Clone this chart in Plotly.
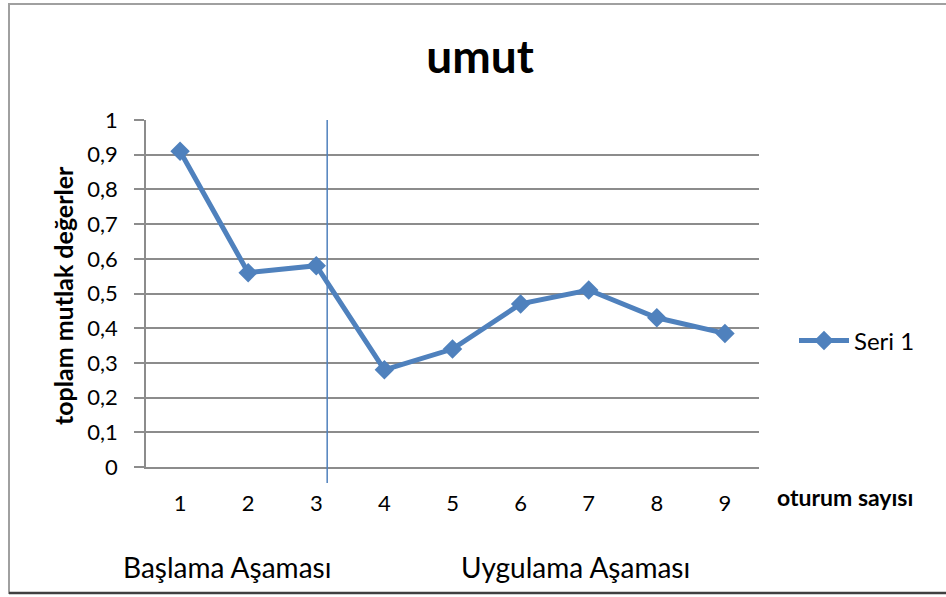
import plotly.graph_objects as go

sessions = [1, 2, 3, 4, 5, 6, 7, 8, 9]
values = [0.91, 0.56, 0.58, 0.28, 0.34, 0.47, 0.51, 0.43, 0.385]
series_name = "Seri 1"
y_ticks = [0, 0.1, 0.2, 0.3, 0.4, 0.5, 0.6, 0.7, 0.8, 0.9, 1]
y_tick_labels = ["0", "0,1", "0,2", "0,3", "0,4", "0,5", "0,6", "0,7", "0,8", "0,9", "1"]
phase_boundary = 3.16
phase_labels = ["Başlama Aşaması", "Uygulama Aşaması"]

W, H = 946, 597
L, R, T, B = 146, 187, 120, 130
pw, ph = W - L - R, H - T - B

def px(x):
    return (x - L) / pw

def py(y):
    return (H - B - y) / ph

FONT = "Lato"
BLUE = "#4F81BD"
GRID = "#8C8C8C"

fig = go.Figure()
fig.add_trace(go.Scatter(
    x=sessions, y=values, name=series_name, mode="lines+markers",
    line=dict(color=BLUE, width=5),
    marker=dict(symbol="diamond", size=15, color=BLUE),
    showlegend=True,
))

fig.update_layout(
    width=W, height=H,
    margin=dict(l=L, r=R, t=T, b=B),
    paper_bgcolor="white", plot_bgcolor="white",
    font=dict(family=FONT, color="#000000", size=16),
    title=dict(text="<b>umut</b>", x=px(480), xref="paper", xanchor="center",
               y=1 - 57 / H, yref="container", yanchor="middle",
               font=dict(size=46, family=FONT, color="#000")),
    showlegend=True,
    legend=dict(x=px(794), y=py(341), xanchor="left", yanchor="middle",
                font=dict(size=24, family=FONT), bgcolor="rgba(0,0,0,0)",
                itemwidth=50),
    xaxis=dict(range=[0.5, 9.5], tickmode="array", tickvals=sessions,
               ticktext=[str(s) for s in sessions], showgrid=False,
               zeroline=False, showline=True, linecolor=GRID, linewidth=1.5,
               ticks="", ticklabelstandoff=16, tickfont=dict(size=22)),
    yaxis=dict(range=[0, 1], tickmode="array", tickvals=y_ticks,
               ticktext=y_tick_labels, showgrid=True, gridcolor=GRID,
               gridwidth=1.5, zeroline=False, showline=True, linecolor=GRID,
               linewidth=1.5, ticks="outside", ticklen=10, tickcolor=GRID,
               tickwidth=1.5, ticklabelstandoff=12, tickfont=dict(size=22)),
)

# phase separator
fig.add_shape(type="line", xref="x", yref="paper", x0=phase_boundary, x1=phase_boundary,
              y0=py(483), y1=1.0, line=dict(color=BLUE, width=1.5), layer="above")

# chart border
fig.add_shape(type="rect", xref="paper", yref="paper", x0=px(9), x1=px(950),
              y0=py(593), y1=py(4), line=dict(color="#A0A0A0", width=2), layer="below")
fig.add_shape(type="line", xref="paper", yref="paper", x0=px(9), x1=px(950),
              y0=py(593), y1=py(593), line=dict(color="#404040", width=2.5), layer="below")

# axis titles
fig.add_annotation(text="<b>toplam mutlak değerler</b>", xref="paper", yref="paper",
                   x=px(63), y=py(295), textangle=-90, showarrow=False,
                   font=dict(size=25, family=FONT), xanchor="center", yanchor="middle")
fig.add_annotation(text="<b>oturum sayısı</b>", xref="paper", yref="paper",
                   x=px(845), y=py(497), showarrow=False,
                   font=dict(size=23, family=FONT), xanchor="center", yanchor="middle")

# phase labels
fig.add_annotation(text=phase_labels[0], xref="paper", yref="paper",
                   x=px(227), y=py(567), showarrow=False,
                   font=dict(size=28, family=FONT), xanchor="center", yanchor="middle")
fig.add_annotation(text=phase_labels[1], xref="paper", yref="paper",
                   x=px(575), y=py(567), showarrow=False,
                   font=dict(size=28, family=FONT), xanchor="center", yanchor="middle")

fig.write_html("out.html", post_script="document.body.style.margin='0px';",
               config={"displayModeBar": False})
